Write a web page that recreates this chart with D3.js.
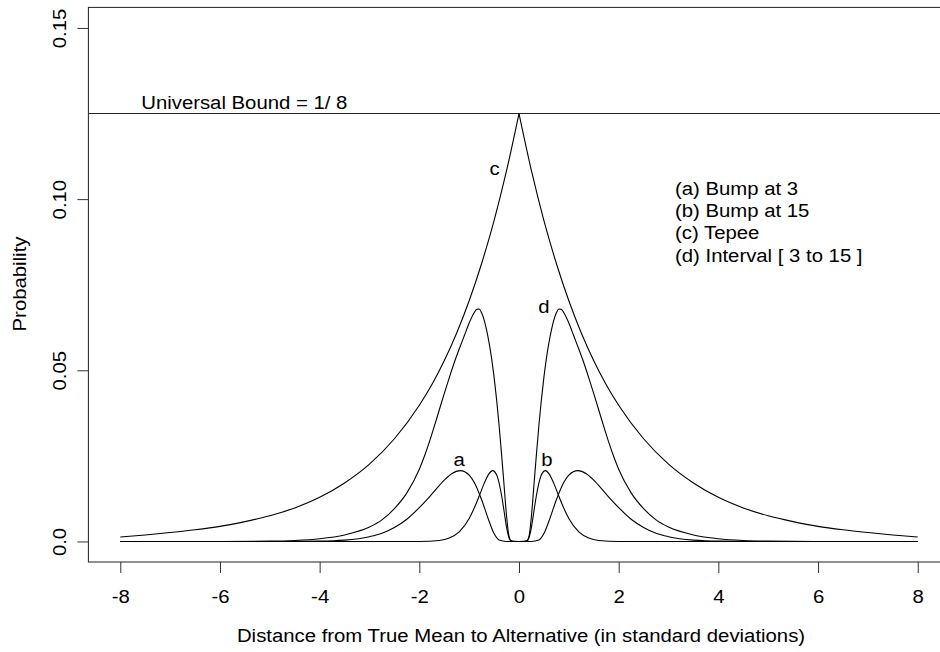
<!DOCTYPE html>
<html>
<head>
<meta charset="utf-8">
<script src="https://cdn.jsdelivr.net/npm/d3@7"></script>
<style>
  body { margin: 0; background: #fff; }
  svg { display: block; font-family: "Liberation Sans", Arial, sans-serif; }
  .curve { fill: none; stroke: #000; stroke-width: 1.1; }
  .frame { fill: none; stroke: #222; stroke-width: 1; }
  .axis line { stroke: #333; }
</style>
</head>
<body>
<svg id="chart" width="940" height="652"></svg>
<script>
// values
const xTicks = [-8, -6, -4, -2, 0, 2, 4, 6, 8];
const yTicks = [0, 0.05, 0.10, 0.15];
const yTickLabels = ["0.0", "0.05", "0.10", "0.15"];
const universalBound = 1 / 8;

// (a) Bump at 3
const xA = [-8, -5, -4, -3.5, -3, -2.75, -2.5, -2.25, -2, -1.75, -1.5, -1.35, -1.18, -1, -0.9, -0.75, -0.6, -0.5, -0.4, -0.25,
  0, 0.25, 0.4, 0.5, 0.6, 0.75, 0.9, 1, 1.18, 1.35, 1.5, 1.75, 2, 2.25, 2.5, 2.75, 3, 3.5, 4, 5, 8];
const yA = [0, 0, 0.0001, 0.0004, 0.0014, 0.0024, 0.0041, 0.0065, 0.0099, 0.0138, 0.0179, 0.0198, 0.0207, 0.0194, 0.0173, 0.0122, 0.0059, 0.0023, 0.0004, 0,
  0, 0, 0.0004, 0.0023, 0.0059, 0.0122, 0.0173, 0.0194, 0.0207, 0.0198, 0.0179, 0.0138, 0.0099, 0.0065, 0.0041, 0.0024, 0.0014, 0.0004, 0.0001, 0, 0];

// (b) Bump at 15
const xB = [-8, -2, -1.6, -1.4, -1.2, -1, -0.9, -0.8, -0.7, -0.6, -0.53, -0.45, -0.4, -0.35, -0.3, -0.25, -0.2, -0.15, -0.1,
  0, 0.1, 0.15, 0.2, 0.25, 0.3, 0.35, 0.4, 0.45, 0.53, 0.6, 0.7, 0.8, 0.9, 1, 1.2, 1.4, 1.6, 2, 8];
const yB = [0, 0, 0.0003, 0.0010, 0.0028, 0.0067, 0.0097, 0.0132, 0.0169, 0.0198, 0.0207, 0.0195, 0.0171, 0.0135, 0.0089, 0.0042, 0.0011, 0.0001, 0,
  0, 0, 0.0001, 0.0011, 0.0042, 0.0089, 0.0135, 0.0171, 0.0195, 0.0207, 0.0198, 0.0169, 0.0132, 0.0097, 0.0067, 0.0028, 0.0010, 0.0003, 0, 0];

// (c) Tepee
const xC = [-8, -7.5, -7, -6.5, -6, -5.5, -5, -4.5, -4, -3.5, -3, -2.5, -2, -1.75, -1.5, -1.25, -1, -0.75, -0.5, -0.25,
  0, 0.25, 0.5, 0.75, 1, 1.25, 1.5, 1.75, 2, 2.5, 3, 3.5, 4, 4.5, 5, 5.5, 6, 6.5, 7, 7.5, 8];
const yC = [0.0013, 0.0019, 0.0026, 0.0034, 0.0044, 0.0058, 0.0075, 0.0098, 0.0129, 0.0171, 0.0226, 0.0300, 0.0398, 0.0458, 0.0528, 0.0609, 0.0703, 0.0812, 0.0937, 0.1083,
  0.125, 0.1083, 0.0937, 0.0812, 0.0703, 0.0609, 0.0528, 0.0458, 0.0398, 0.0300, 0.0226, 0.0171, 0.0129, 0.0098, 0.0075, 0.0058, 0.0044, 0.0034, 0.0026, 0.0019, 0.0013];

// (d) Interval [ 3 to 15 ]
const xD = [-8, -6, -5, -4.5, -4, -3.5, -3, -2.75, -2.5, -2.25, -2, -1.9, -1.8, -1.7, -1.6, -1.5, -1.4, -1.3, -1.2, -1.1, -1, -0.9, -0.85, -0.8, -0.75, -0.7, -0.65, -0.6, -0.55, -0.5, -0.45, -0.4, -0.35, -0.3, -0.25, -0.2, -0.15,
  0, 0.15, 0.2, 0.25, 0.3, 0.35, 0.4, 0.45, 0.5, 0.55, 0.6, 0.65, 0.7, 0.75, 0.8, 0.85, 0.9, 1, 1.1, 1.2, 1.3, 1.4, 1.5, 1.6, 1.7, 1.8, 1.9, 2, 2.25, 2.5, 2.75, 3, 3.5, 4, 4.5, 5, 6, 8];
const yD = [0, 0, 0.0001, 0.0003, 0.0008, 0.0019, 0.0042, 0.0063, 0.0096, 0.0142, 0.0211, 0.0248, 0.0290, 0.0336, 0.0384, 0.0432, 0.0478, 0.0522, 0.0562, 0.0600, 0.0638, 0.0668, 0.0678, 0.0679, 0.0668, 0.0647, 0.0617, 0.058, 0.0535, 0.048, 0.0415, 0.034, 0.0255, 0.0165, 0.0075, 0.0015, 0.0001,
  0, 0.0001, 0.0015, 0.0075, 0.0165, 0.0255, 0.034, 0.0415, 0.048, 0.0535, 0.058, 0.0617, 0.0647, 0.0668, 0.0679, 0.0678, 0.0668, 0.0638, 0.0600, 0.0562, 0.0522, 0.0478, 0.0432, 0.0384, 0.0336, 0.0290, 0.0248, 0.0211, 0.0142, 0.0096, 0.0063, 0.0042, 0.0019, 0.0008, 0.0003, 0.0001, 0, 0];

const legendLines = ["(a) Bump at 3", "(b) Bump at 15", "(c) Tepee", "(d) Interval [ 3 to 15 ]"];
const curveLabels = [
  { t: "c", x: -0.49, y: 0.1069 },
  { t: "d", x: 0.50, y: 0.0668 },
  { t: "a", x: -1.20, y: 0.0219 },
  { t: "b", x: 0.56, y: 0.0219 }
];

const FS = 18;     // font size
const SX = 1.13;   // text is drawn a bit wide in the original

const svg = d3.select("#chart");

// R pads the limits by 4% on each side
const x = d3.scaleLinear().domain([-8.64, 8.64]).range([88.4, 949.6]);
const y = d3.scaleLinear().domain([-0.006, 0.156]).range([562, 7.4]);

function addText(str, px, py, anchor, rot) {
    svg.append("text")
        .attr("transform", `translate(${px},${py})` + (rot ? ` rotate(${rot})` : "") + ` scale(${SX},1)`)
        .attr("text-anchor", anchor)
        .attr("font-size", FS)
        .attr("fill", "#000")
        .text(str);
}

// frame (right side runs off the page like the original)
svg.append("rect")
    .attr("class", "frame")
    .attr("x", x(-8.64)).attr("y", y(0.156))
    .attr("width", x(8.64) - x(-8.64)).attr("height", y(-0.006) - y(0.156));

// axes
const xAxis = svg.append("g")
    .attr("class", "axis")
    .attr("transform", `translate(0,${y(-0.006)})`)
    .call(d3.axisBottom(x).tickValues(xTicks).tickSize(11).tickFormat(d => String(d)));
xAxis.select(".domain").remove();
xAxis.selectAll("text")
    .attr("y", null).attr("dy", null)
    .attr("transform", `translate(0,41) scale(${SX},1)`)
    .attr("font-size", FS).attr("font-family", null).attr("fill", "#000");

const yAxis = svg.append("g")
    .attr("class", "axis")
    .attr("transform", `translate(${x(-8.64)},0)`)
    .call(d3.axisLeft(y).tickValues(yTicks).tickSize(11).tickFormat((d, i) => yTickLabels[i]));
yAxis.select(".domain").remove();
yAxis.selectAll("text")
    .attr("x", null).attr("dy", null)
    .attr("text-anchor", "middle")
    .attr("transform", `translate(-22,0) rotate(-90) scale(${SX},1)`)
    .attr("font-size", FS).attr("font-family", null).attr("fill", "#000");

// axis titles
addText("Distance from True Mean to Alternative (in standard deviations)", 521, 642, "middle");
addText("Probability", 26, 284, "middle", -90);

// universal bound
svg.append("line")
    .attr("x1", x(-8.64)).attr("x2", x(8.64))
    .attr("y1", y(universalBound)).attr("y2", y(universalBound))
    .attr("stroke", "#222").attr("stroke-width", 1);
addText("Universal Bound = 1/ 8", x(-7.58), y(0.1262), "start");

// curves, each side drawn on its own so the tepee keeps its point
const line = d3.line()
    .x(d => x(d[0]))
    .y(d => y(d[1]))
    .curve(d3.curveMonotoneX);

function drawCurve(xs, ys) {
    const pts = xs.map((v, i) => [v, ys[i]]);
    [pts.filter(p => p[0] <= 0), pts.filter(p => p[0] >= 0)].forEach(half => {
        svg.append("path").attr("class", "curve").attr("d", line(half));
    });
}

drawCurve(xA, yA);
drawCurve(xB, yB);
drawCurve(xC, yC);
drawCurve(xD, yD);

curveLabels.forEach(l => addText(l.t, x(l.x), y(l.y), "middle"));

// legend
legendLines.forEach((s, i) => addText(s, 675, 195 + i * 22.2, "start"));
</script>
</body>
</html>
